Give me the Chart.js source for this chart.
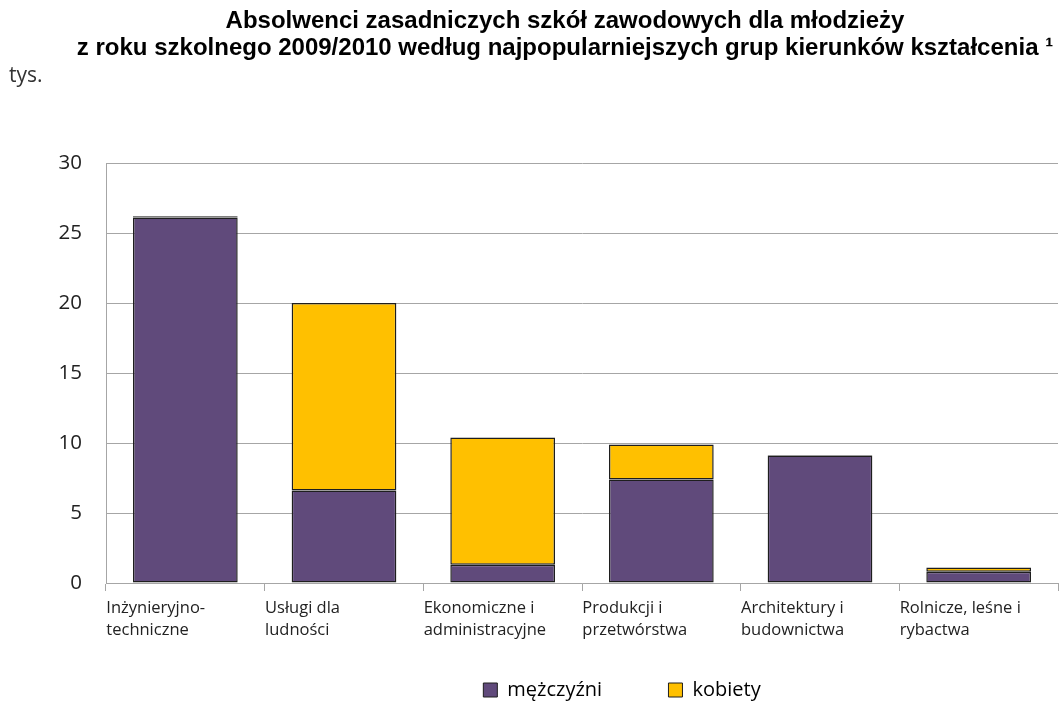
<!DOCTYPE html>
<html><head><meta charset="utf-8">
<script src="https://cdn.jsdelivr.net/npm/chart.js@4/dist/chart.umd.min.js"></script>
<style>html,body{margin:0;padding:0;background:#fff}#wrap{width:1059px;height:704px}</style>
</head><body><div id="wrap"><canvas id="c"></canvas></div>
<script>
const categories = [["Inżynieryjno-","techniczne"],["Usługi dla","ludności"],["Ekonomiczne i","administracyjne"],["Produkcji i","przetwórstwa"],["Architektury i","budownictwa"],["Rolnicze, leśne i","rybactwa"]];
const men = [26.1, 6.6, 1.3, 7.4, 9.1, 0.8];
const women = [0.1, 13.4, 9.1, 2.5, 0.05, 0.3];
const seriesNames = ["mężczyźni", "kobiety"];
const titleLines = ["Absolwenci zasadniczych szkół zawodowych dla młodzieży", "z roku szkolnego 2009/2010 według najpopularniejszych grup kierunków kształcenia ¹"];
const unitLabel = "tys.";

const unitPlugin = {
  id: 'unit',
  afterLayout(chart) {
    const lg = chart.legend;
    if (lg) { lg.left += 93; lg.right += 93; lg.top += 6; lg.bottom += 6; }
    const tb = chart.titleBlock;
    if (tb) { tb.left += 36; tb.right += 36; }
  },
  afterDraw(chart) {
    const ctx = chart.ctx;
    ctx.save();
    ctx.font = '21px "Open Sans", sans-serif';
    ctx.fillStyle = '#333';
    ctx.textBaseline = 'middle';
    ctx.textAlign = 'left';
    ctx.fillText(unitLabel, 9, 76);
    ctx.restore();
  }
};

new Chart(document.getElementById('c'), {
  type: 'bar',
  data: {
    labels: categories,
    datasets: [
      { label: seriesNames[0], data: men, backgroundColor: '#604A7B', borderColor: '#1e1e1e', borderWidth: 1.5, borderSkipped: false },
      { label: seriesNames[1], data: women, backgroundColor: '#FFC000', borderColor: '#1e1e1e', borderWidth: 1.5, borderSkipped: false }
    ]
  },
  plugins: [unitPlugin],
  options: {
    responsive: true,
    maintainAspectRatio: false,
    animation: false,
    layout: { padding: { left: 0, right: 1, top: 0, bottom: 0 } },
    datasets: { bar: { barPercentage: 0.66, categoryPercentage: 1.0 } },
    plugins: {
      title: {
        display: true,
        text: titleLines,
        color: '#000',
        font: { family: '"Liberation Sans", Arial, sans-serif', size: 24, weight: 'bold', lineHeight: 1.125 },
        padding: { top: 8, bottom: 101 }
      },
      legend: {
        position: 'bottom',
        labels: {
          color: '#222',
          font: { family: '"Open Sans", sans-serif', size: 20 },
          boxWidth: 14, boxHeight: 14, padding: 4,
          generateLabels(chart) {
            return chart.data.datasets.map((d, i) => ({
              text: i === 0 ? d.label + '            ' : d.label,
              fillStyle: d.backgroundColor,
              strokeStyle: '#1e1e1e',
              lineWidth: 1,
              datasetIndex: i
            }));
          }
        }
      },
      tooltip: { enabled: false }
    },
    scales: {
      x: {
        stacked: true,
        afterFit(scale) { scale.height = 87; scale.paddingLeft = 0; scale.paddingRight = 0; },
        grid: { offset: true, drawOnChartArea: false, tickLength: 8, color: '#a6a6a6' },
        border: { color: '#a6a6a6' },
        ticks: { color: '#222', font: { family: '"Open Sans", sans-serif', size: 16.5, lineHeight: 1.35 }, maxRotation: 0, autoSkip: false, padding: 6, align: 'start', labelOffset: -79 }
      },
      y: {
        stacked: true,
        min: 0, max: 30,
        afterFit(scale) { scale.width = 106; },
        ticks: { stepSize: 5, color: '#222', font: { family: '"Open Sans", sans-serif', size: 20.5 }, padding: 24 },
        grid: { color: '#a6a6a6', drawTicks: false },
        border: { color: '#a6a6a6' }
      }
    }
  }
});
</script></body></html>
